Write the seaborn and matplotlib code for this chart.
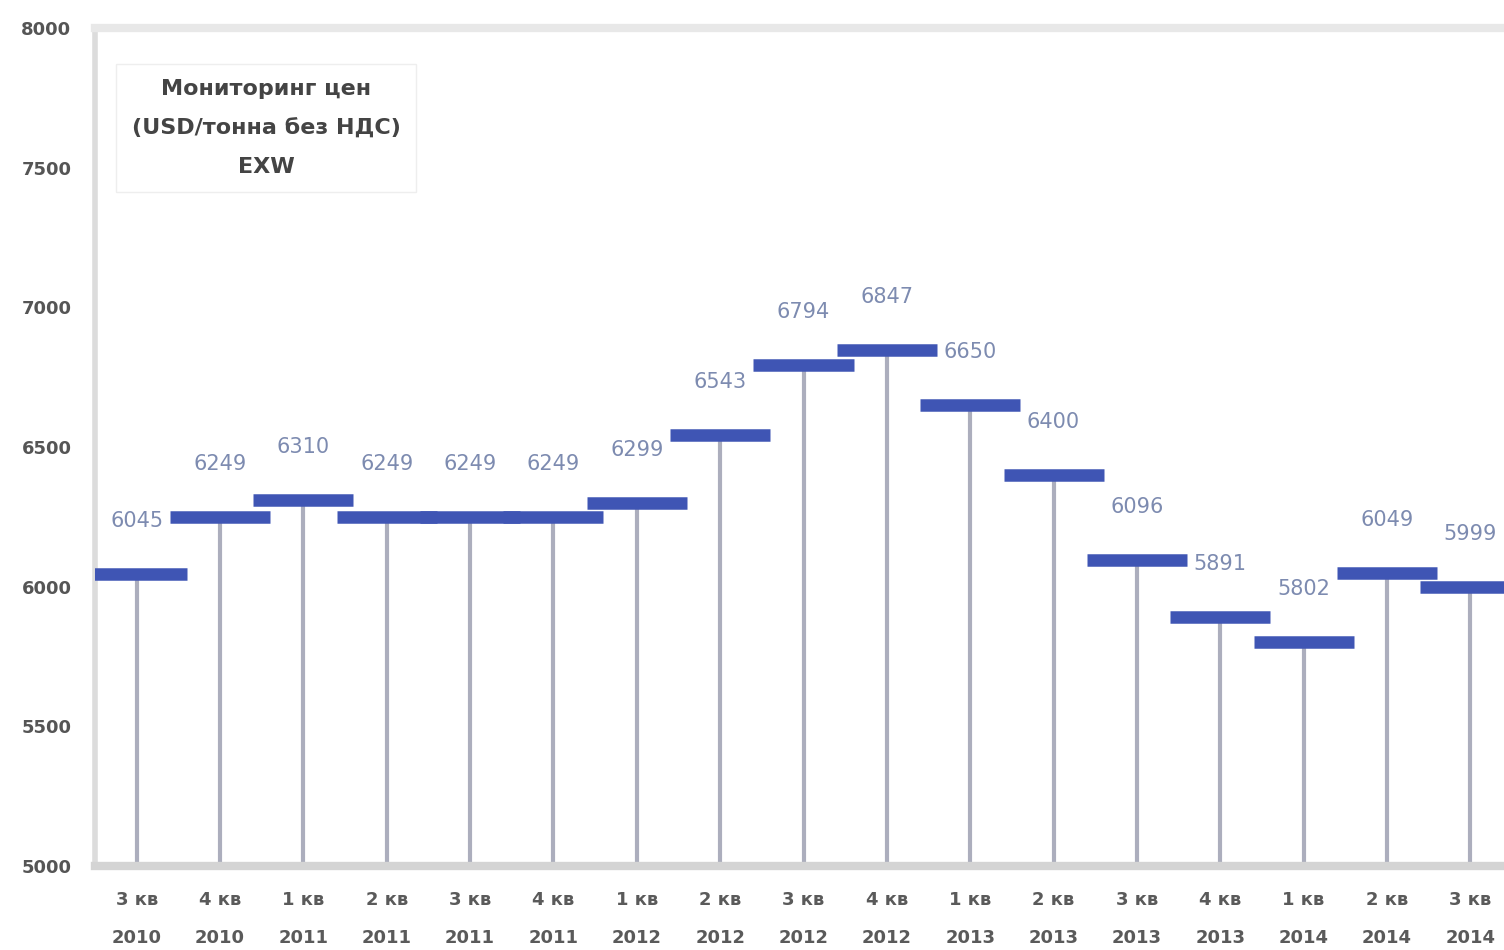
import numpy as np
import pandas as pd
import matplotlib
matplotlib.use("Agg")
import matplotlib.pyplot as plt
import seaborn as sns

# Quarterly prices
quarters = ["3 кв", "4 кв", "1 кв", "2 кв", "3 кв", "4 кв", "1 кв", "2 кв", "3 кв",
            "4 кв", "1 кв", "2 кв", "3 кв", "4 кв", "1 кв", "2 кв", "3 кв"]
years = ["2010", "2010", "2011", "2011", "2011", "2011", "2012", "2012", "2012",
         "2012", "2013", "2013", "2013", "2013", "2014", "2014", "2014"]
prices = [6045, 6249, 6310, 6249, 6249, 6249, 6299, 6543, 6794,
          6847, 6650, 6400, 6096, 5891, 5802, 6049, 5999]
y_ticks = [5000, 5500, 6000, 6500, 7000, 7500, 8000]
title_lines = ["Мониторинг цен", "(USD/тонна без НДС)", "EXW"]

sns.set_style("white")
plt.rcParams["font.family"] = ["DejaVu Sans"]

n = len(prices)
x = np.arange(n)
df = pd.DataFrame({"x": x, "price": prices})

# one horizontal plateau per quarter, slightly wider than the slot
half = 0.6
plateaus = pd.DataFrame({
    "q": np.repeat(x, 2),
    "x": np.ravel(np.column_stack([x - half, x + half])),
    "price": np.repeat(prices, 2),
})

fig = plt.figure(figsize=(15.04, 9.5), dpi=100)
ax = fig.add_axes([95 / 1504, 1 - 866 / 950, (1512 - 95) / 1504, (866 - 28) / 950])

# stems from the baseline up to each quarterly level
ax.vlines(df["x"], y_ticks[0], df["price"], color="#acaebd", linewidth=3, zorder=2)

sns.lineplot(data=plateaus, x="x", y="price", units="q", estimator=None, ax=ax,
             color="#3f55b4", linewidth=9, zorder=3, solid_capstyle="butt")

for xi, v in zip(df["x"], df["price"]):
    ax.annotate(f"{v}", (xi, v), xytext=(0, 38), textcoords="offset points",
                ha="center", va="center", fontsize=15, color="#7d8bb0")

ax.set_xlim(-0.5, n - 0.5)
ax.set_ylim(y_ticks[0], y_ticks[-1])
ax.set_yticks(y_ticks)
ax.set_yticklabels([str(t) for t in y_ticks], fontsize=13, fontweight="bold", color="#555555")
ax.set_xticks(x)
ax.set_xticklabels([f"{q}\n{y}" for q, y in zip(quarters, years)],
                   fontsize=13, fontweight="bold", color="#5a5a5a", linespacing=2.4)
ax.tick_params(axis="y", pad=17, length=0)
ax.tick_params(axis="x", pad=18, length=0)
ax.set_xlabel("")
ax.set_ylabel("")

ax.spines["left"].set_color("#dcdcdc")
ax.spines["left"].set_linewidth(4)
ax.spines["top"].set_color("#e8e8e8")
ax.spines["top"].set_linewidth(6)
ax.spines["bottom"].set_color("#d4d4d4")
ax.spines["bottom"].set_linewidth(6)
ax.spines["right"].set_visible(False)

ax.text(266 / 1504, 1 - 128 / 950, "\n".join(title_lines), transform=fig.transFigure,
        ha="center", va="center", fontsize=16, fontweight="bold", color="#444444",
        linespacing=2.15,
        bbox=dict(boxstyle="square,pad=0.7", facecolor="white", edgecolor="#eeeeee"))

fig.savefig("out.png", dpi=100)
